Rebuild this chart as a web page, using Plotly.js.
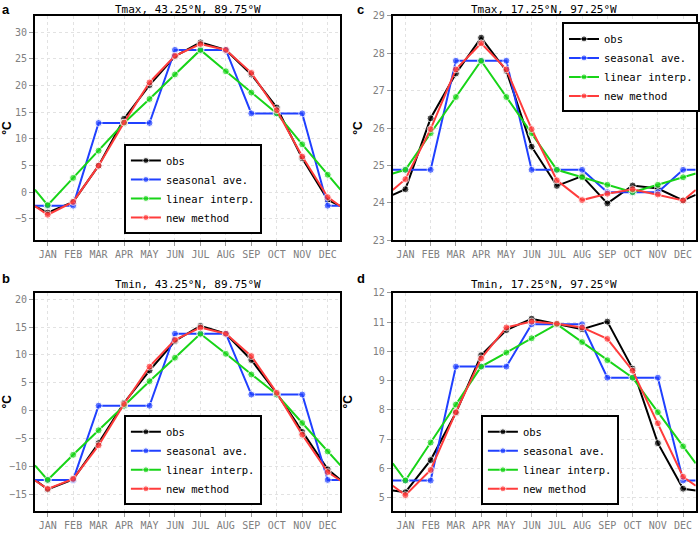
<!DOCTYPE html>
<html><head><meta charset="utf-8">
<script src="https://cdn.plot.ly/plotly-3.0.1.min.js"></script>
<style>html,body{margin:0;padding:0;background:#fff}</style>
</head><body><div id="chart" style="width:700px;height:533px"></div>
<script>
// ---- categories / labels ----
const months = ['JAN','FEB','MAR','APR','MAY','JUN','JUL','AUG','SEP','OCT','NOV','DEC'];
const monthPos = [1,2,3,4,5,6,7,8,9,10,11,12];
const seriesNames = ['obs','seasonal ave.','linear interp.','new method'];
const panelTitles = ['Tmax, 43.25°N, 89.75°W','Tmin, 43.25°N, 89.75°W','Tmax, 17.25°N, 97.25°W','Tmin, 17.25°N, 97.25°W'];
const panelLetters = ['a','b','c','d'];

// ---- panel a : Tmax 43.25N 89.75W ----
const aObs  = [-3.8, -1.8, 5.0, 13.8, 20.1, 25.5, 28.1, 26.7, 22.1, 15.9, 6.4, -1.4];
const aSeas = [-2.5, -2.5, 13.0, 13.0, 13.0, 26.7, 26.7, 26.7, 14.8, 14.8, 14.8, -2.5];
const aLin  = [-2.4, 2.7, 7.8, 13.0, 17.5, 22.1, 26.7, 22.7, 18.7, 14.8, 9.0, 3.3];
const aNew  = [-4.2, -1.8, 5.0, 13.1, 20.6, 25.6, 27.8, 26.7, 22.4, 15.4, 6.7, -0.9];
// values at the left / right plot edges (lines continue to the frame)
const aEdges = [[-2.6,-2.6],[-2.5,-2.5],[0.5,0.5],[-2.6,-2.6]];

// ---- panel b : Tmin 43.25N 89.75W ----
const bObs  = [-14.1, -12.3, -5.8, 1.4, 7.2, 12.5, 15.2, 13.8, 9.1, 3.1, -3.8, -10.5];
const bSeas = [-12.4, -12.4, 0.9, 0.9, 0.9, 13.8, 13.8, 13.8, 2.9, 2.9, 2.9, -12.4];
const bLin  = [-12.4, -7.9, -3.5, 0.9, 5.3, 9.5, 13.8, 10.2, 6.5, 2.9, -2.2, -7.3];
const bNew  = [-14.0, -12.2, -6.2, 1.2, 7.9, 12.7, 14.9, 13.8, 9.8, 3.2, -4.3, -11.0];
const bEdges = [[-12.4,-12.4],[-12.4,-12.4],[-9.8,-9.8],[-12.5,-12.5]];

// ---- panel c : Tmax 17.25N 97.25W ----
const cObs  = [24.36, 26.26, 27.46, 28.42, 27.53, 25.50, 24.45, 24.71, 23.98, 24.46, 24.38, 24.06];
const cSeas = [24.88, 24.88, 27.80, 27.80, 27.80, 24.88, 24.88, 24.88, 24.28, 24.28, 24.28, 24.88];
const cLin  = [24.88, 25.86, 26.83, 27.80, 26.83, 25.86, 24.88, 24.68, 24.48, 24.28, 24.48, 24.68];
const cNew  = [24.63, 25.97, 27.57, 28.27, 27.57, 25.97, 24.60, 24.07, 24.24, 24.36, 24.22, 24.06];
const cEdges = [[24.21,24.21],[24.88,24.88],[24.78,24.78],[24.34,24.34]];

// ---- panel d : Tmin 17.25N 97.25W ----
const dObs  = [5.18, 6.28, 7.90, 9.87, 10.73, 11.12, 10.95, 10.76, 11.02, 9.41, 6.86, 5.30];
const dSeas = [5.58, 5.58, 9.48, 9.48, 9.48, 10.93, 10.93, 10.93, 9.10, 9.10, 9.10, 5.58];
const dLin  = [5.58, 6.88, 8.18, 9.48, 9.96, 10.45, 10.93, 10.32, 9.70, 9.10, 7.92, 6.75];
const dNew  = [5.08, 5.94, 7.92, 9.76, 10.82, 11.02, 10.95, 10.82, 10.43, 9.34, 7.54, 5.71];
const dEdges = [[5.24,5.24],[5.58,5.58],[6.17,6.17],[5.40,5.40]];

// ---- styling ----
const colors = ['#000000','#2040ff','#18d418','#ff3c3c'];
const MONO = 'DejaVu Sans Mono';

const panels = [
  {series:[aObs,aSeas,aLin,aNew], edges:aEdges, xa:'x',  ya:'y',  legend:'legend'},
  {series:[bObs,bSeas,bLin,bNew], edges:bEdges, xa:'x3', ya:'y3', legend:'legend2'},
  {series:[cObs,cSeas,cLin,cNew], edges:cEdges, xa:'x2', ya:'y2', legend:'legend3'},
  {series:[dObs,dSeas,dLin,dNew], edges:dEdges, xa:'x4', ya:'y4', legend:'legend4'}
];

const xFull = [0.5].concat(monthPos, [12.5]);
const mSize = [0].concat(monthPos.map(()=>7), [0]);
const traces = [];
panels.forEach(p => {
  p.series.forEach((vals, i) => {
    traces.push({
      type:'scatter', mode:'lines+markers',
      x: xFull,
      y: [p.edges[i][0]].concat(vals, [p.edges[i][1]]),
      name: seriesNames[i],
      xaxis: p.xa, yaxis: p.ya, legend: p.legend,
      line:{color:colors[i], width:2},
      marker:{color:colors[i], size:mSize},
      hoverinfo:'skip'
    });
  });
});

const GRID = '#e2e2e2';
function xax(domain, anchor){
  return {domain, anchor, range:[0.5,12.5], tickvals:monthPos, ticktext:months,
    showgrid:true, gridcolor:GRID, griddash:'dot', gridwidth:1, zeroline:false,
    showline:true, linecolor:'#000', linewidth:2, mirror:true,
    ticks:'outside', ticklen:4, tickcolor:'#999', tickwidth:1,
    tickfont:{family:MONO, size:10, color:'#808080'}, fixedrange:true};
}
function yax(domain, anchor, range, dtick, standoff){
  return {domain, anchor, range, dtick, tick0:0,
    showgrid:true, gridcolor:GRID, griddash:'dot', gridwidth:1, zeroline:false,
    showline:true, linecolor:'#000', linewidth:2, mirror:true,
    ticks:'outside', ticklen:4, tickcolor:'#999', tickwidth:1,
    tickfont:{family:MONO, size:10, color:'#808080'}, fixedrange:true,
    title:{text:'<b>°C</b>', font:{family:'Liberation Sans', size:12, color:'#000'}, standoff}};
}
const XL=[0.05,0.487], XR=[0.5619,0.9953], YT=[0.5497,0.970], YB=[0.042,0.4503];
function legendAt(x, y, yanchor){
  return {x, y, xanchor:'left', yanchor, bgcolor:'#fff', bordercolor:'#000', borderwidth:2,
    font:{family:MONO, size:10.5, color:'#000'}, itemwidth:30, tracegroupgap:0};
}
const annotations = [];
const titlePos = [[(XL[0]+XL[1])/2, 0.983],[(XL[0]+XL[1])/2, 0.467],[(XR[0]+XR[1])/2, 0.983],[(XR[0]+XR[1])/2, 0.467]];
panelTitles.forEach((t,i)=>annotations.push({text:t, xref:'paper', yref:'paper', x:titlePos[i][0], y:titlePos[i][1],
  xanchor:'center', yanchor:'middle', showarrow:false, font:{family:MONO, size:11, color:'#000'}}));
const letterPos = [[0.0,1.0],[0.0,0.495],[0.508,1.0],[0.508,0.495]];
panelLetters.forEach((t,i)=>annotations.push({text:'<b>'+t+'</b>', xref:'paper', yref:'paper', x:letterPos[i][0], y:letterPos[i][1],
  xanchor:'left', yanchor:'top', showarrow:false, font:{family:'Liberation Sans', size:13, color:'#000'}}));

const layout = {
  width:700, height:533, margin:{l:0,r:0,t:0,b:0},
  paper_bgcolor:'#fff', plot_bgcolor:'#fff', showlegend:true,
  xaxis: xax(XL,'y'), yaxis: yax(YT,'x',[-8.94,33.06],5,6),
  xaxis2: xax(XR,'y2'), yaxis2: yax(YT,'x2',[23,29],1,8),
  xaxis3: xax(XL,'y3'), yaxis3: yax(YB,'x3',[-17.9,21.1],5,6),
  xaxis4: xax(XR,'y4'), yaxis4: yax(YB,'x4',[4.55,12],1,18),
  legend: legendAt(0.177, 0.561, 'bottom'),
  legend2: legendAt(0.177, 0.052, 'bottom'),
  legend3: legendAt(0.804, 0.958, 'top'),
  legend4: legendAt(0.687, 0.052, 'bottom'),
  annotations
};
Plotly.newPlot('chart', traces, layout, {staticPlot:true, displayModeBar:false});
</script></body></html>
